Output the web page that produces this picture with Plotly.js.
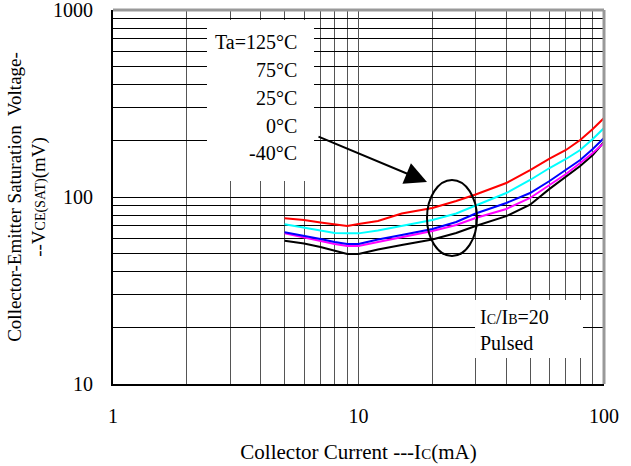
<!DOCTYPE html>
<html><head><meta charset="utf-8">
<script src="https://cdn.plot.ly/plotly-3.0.1.min.js"></script>
<style>html,body{margin:0;padding:0;background:#fff}</style>
</head><body><div id="chart" style="width:631px;height:466px"></div>
<script>
// Collector current (mA)
const current = [5,6,7,8,9,10,12,15,20,25,30,40,50,60,70,80,90,100];
// VCE(sat) (mV) per ambient temperature
const vce125 = [76.9,75.3,73.1,71.3,70.0,71.7,74.4,81.6,87.3,95.2,103.1,118.8,139.4,160.6,178.4,201.7,231,264.5];
const vce75  = [71.4,68.3,65.8,64.2,63.9,63.9,66.2,70.0,75.3,81.6,90.0,105.0,123.3,142.9,159.7,178.4,204.2,233.9];
const vce25  = [64.8,62.2,59.6,57.5,56.1,56.1,59.3,62.6,67.4,73.5,81.6,92.9,105.0,121.8,139.4,157.7,180.6,206.8];
const vce0   = [63.9,60.8,57.8,56.1,54.7,54.7,57.5,60.8,65.8,70.8,77.2,86.3,98.8,115.9,132.7,152.0,171.9,194.5];
const vceM40 = [58.4,56.4,54.0,51.4,49.6,49.6,52.4,55.4,59.3,64.2,70.0,79.0,91.0,110.5,127.9,146.4,167.7,196.9];
const seriesNames = ['-40°C','0°C','25°C','75°C','125°C'];
const seriesColors = ['#000000','#ff00ff','#0000ff','#00ffff','#ff0000'];
const seriesValues = [vceM40, vce0, vce25, vce75, vce125];
const tempLabels = ['Ta=125°C','75°C','25°C','0°C','-40°C'];

const FONT = 'Liberation Serif, Times New Roman, serif';
const traces = seriesValues.map((v,i)=>({
  x: current, y: v, type:'scatter', mode:'lines', name: seriesNames[i],
  line:{color: seriesColors[i], width:2}
}));

const tempY = [0.9144,0.8396,0.7647,0.6898,0.6176];
const annotations = tempLabels.map((t,i)=>({
  xref:'paper', yref:'paper', x:0.3788, y:tempY[i], xanchor:'right', yanchor:'middle',
  text:t, showarrow:false, font:{family:FONT, size:20, color:'#000'}
}));
annotations.push({xref:'paper', yref:'paper', x:0.7434, y:0.1791, xanchor:'left', yanchor:'middle',
  text:'I<span style="font-size:14px">C</span>/I<span style="font-size:14px">B</span>=20', showarrow:false,
  font:{family:FONT, size:20, color:'#000'}});
annotations.push({xref:'paper', yref:'paper', x:0.7434, y:0.1096, xanchor:'left', yanchor:'middle',
  text:'Pulsed', showarrow:false, font:{family:FONT, size:20, color:'#000'}});
annotations.push({xref:'paper', yref:'paper', x:0.6395, y:0.5401, ax:-110, ay:-46,
  text:'', showarrow:true, arrowhead:2, arrowsize:2.2, arrowwidth:2, arrowcolor:'#000'});

const layout = {
  width:631, height:466,
  margin:{l:113, r:27, t:10, b:82},
  paper_bgcolor:'#fff', plot_bgcolor:'#fff',
  showlegend:false,
  font:{family:FONT, color:'#000'},
  xaxis:{
    type:'log', range:[0,2], tickmode:'linear', tick0:0, dtick:1, exponentformat:'none',
    showgrid:true, gridcolor:'#555', gridwidth:1,
    minor:{dtick:'D1', showgrid:true, gridcolor:'#555', gridwidth:1, ticks:''},
    showline:true, linecolor:'#000', linewidth:2, ticks:'', zeroline:false,
    tickfont:{family:FONT, size:20, color:'#000'}, ticklabelstandoff:13, ticklabeloverflow:'allow',
    title:{text:'Collector Current ---I<span style="font-size:15px">C</span>(mA)', font:{family:FONT, size:21, color:'#000'}, standoff:18}
  },
  yaxis:{
    type:'log', range:[1,3], tickmode:'linear', tick0:0, dtick:1, exponentformat:'none',
    showgrid:true, gridcolor:'#000', gridwidth:1,
    minor:{dtick:'D1', showgrid:true, gridcolor:'#000', gridwidth:1, ticks:''},
    showline:true, linecolor:'#000', linewidth:2, ticks:'', zeroline:false,
    tickfont:{family:FONT, size:20, color:'#000'}, ticklabelstandoff:14, ticklabeloverflow:'allow',
    title:{text:'Collector-Emitter Saturation  Voltage-<br>--V<span style="font-size:14px">CE(SAT)</span>(mV)', font:{family:FONT, size:19, color:'#000'}, standoff:2}
  },
  shapes:[
    {type:'rect', xref:'paper', yref:'paper', x0:0.1914, x1:0.4094, y0:0.5428, y1:0.9733, fillcolor:'#fff', line:{width:0}, layer:'above'},
    {type:'rect', xref:'paper', yref:'paper', x0:0.7373, x1:0.9572, y0:0.0695, y1:0.2246, fillcolor:'#fff', line:{width:0}, layer:'above'},
    {type:'circle', xref:'paper', yref:'paper', x0:0.6395, x1:0.7413, y0:0.3422, y1:0.5455, line:{color:'#000', width:2}},
    {type:'line', xref:'paper', yref:'paper', x0:0, x1:1, y0:1, y1:1, line:{color:'#999', width:3}},
    {type:'line', xref:'paper', yref:'paper', x0:1, x1:1, y0:0, y1:1, line:{color:'#999', width:3}}
  ],
  annotations: annotations
};
Plotly.newPlot('chart', traces, layout, {displayModeBar:false, staticPlot:true});
</script></body></html>
